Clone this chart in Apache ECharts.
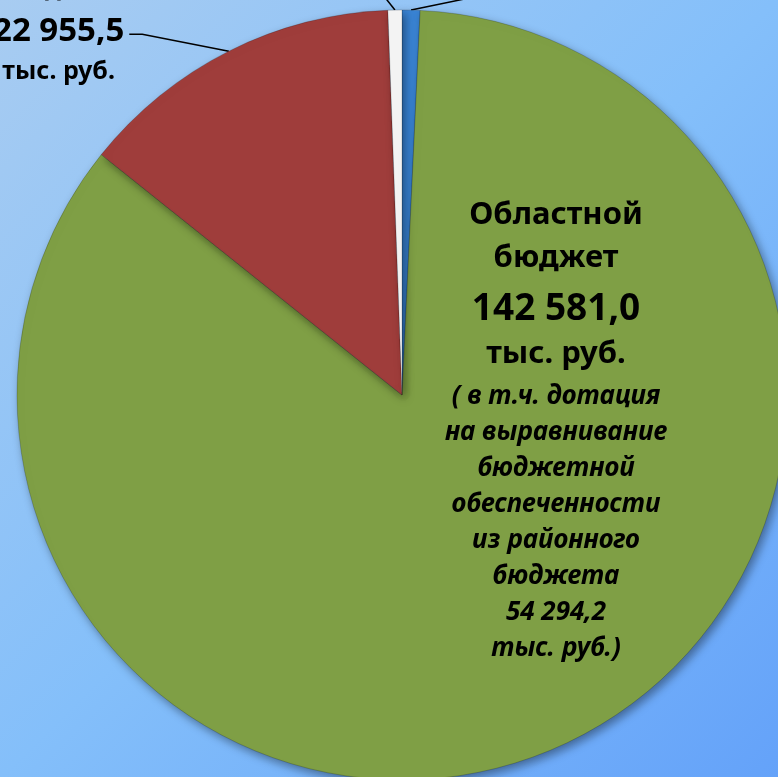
<!DOCTYPE html>
<html>
<head>
<meta charset="utf-8">
<script src="https://cdn.jsdelivr.net/npm/echarts@6/dist/echarts.min.js"></script>
<style>
  html, body { margin: 0; padding: 0; }
  #chart { width: 778px; height: 777px; }
</style>
</head>
<body>
<div id="chart"></div>
<script>
// доли источников доходов, тыс. руб. (по часовой стрелке от верха)
const sliceNames = ['Иные межбюджетные трансферты', 'Областной бюджет', 'Местный бюджет', 'Прочие доходы'];
const sliceValues = [1260.0, 142581.0, 22955.5, 980.0];
const sliceColors = ['#3a84d4', '#7f9f45', '#9f3d3b', '#f4f4f4'];
// дотация на выравнивание внутри областного бюджета
const subsidyValue = 54294.2;
const unitText = 'тыс. руб.';

// 142581 -> "142 581,0"
function fmt(v) {
  const parts = v.toFixed(1).split('.');
  return parts[0].replace(/\B(?=(\d{3})+(?!\d))/g, ' ') + ',' + parts[1];
}

const chart = echarts.init(document.getElementById('chart'));

const FONT = '"Noto Sans", "Open Sans", sans-serif';

// подписи
const mainLabel = {
  position: 'inside',
  formatter: (p) => [
    '{b|Областной}',
    '{b|бюджет}',
    '{n|' + fmt(p.value) + '}',
    '{t|' + unitText + '}',
    '{sp| }',
    '{i|( в т.ч. дотация}',
    '{i|на выравнивание}',
    '{i|бюджетной}',
    '{i|обеспеченности}',
    '{i|из районного}',
    '{i|бюджета}',
    '{i|' + fmt(subsidyValue) + '}',
    '{i|' + unitText + ')}'
  ].join('\n'),
  rich: {
    b: { fontFamily: FONT, fontWeight: 'bold', fontSize: 31, lineHeight: 43, color: '#000', align: 'center' },
    n: { fontFamily: FONT, fontWeight: 'bold', fontSize: 37, lineHeight: 59, color: '#000', align: 'center' },
    t: { fontFamily: FONT, fontWeight: 'bold', fontSize: 31, lineHeight: 31, color: '#000', align: 'center' },
    sp: { fontSize: 4, lineHeight: 9.5 },
    i: { fontFamily: FONT, fontWeight: 'bold', fontStyle: 'italic', fontSize: 26, lineHeight: 36, color: '#000', align: 'center' }
  }
};

const sideLabel = {
  position: 'outside',
  formatter: (p) => [
    '{s|' + p.name.split(' ').join('}\n{s|') + '}',
    '{n|' + fmt(p.value) + '}',
    '{s|' + unitText + '}',
    '{e| }'
  ].join('\n'),
  rich: {
    s: { fontFamily: FONT, fontWeight: 'bold', fontSize: 25, lineHeight: 40, color: '#000', align: 'center' },
    n: { fontFamily: FONT, fontWeight: 'bold', fontSize: 33, lineHeight: 42, color: '#000', align: 'center' },
    e: { fontSize: 10, lineHeight: 46 }
  }
};

// длины выносок для каждого сектора
const lineLen = [22, 0, 19, 30];
const lineLen2 = [105, 0, 91, 23];

const data = sliceNames.map((name, i) => ({
  name: name,
  value: sliceValues[i],
  itemStyle: { color: sliceColors[i] },
  label: i === 1 ? mainLabel : sideLabel,
  labelLine: {
    show: i !== 1,
    length: lineLen[i],
    length2: lineLen2[i],
    lineStyle: { color: '#000', width: 1.5 }
  }
}));

const option = {
  backgroundColor: {
    type: 'linear', x: 0, y: 0, x2: 1, y2: 1,
    colorStops: [
      { offset: 0, color: '#a8ccf1' },
      { offset: 0.5, color: '#84bffa' },
      { offset: 1, color: '#64a2f9' }
    ]
  },
  animation: false,
  series: [
    {
      type: 'pie',
      center: [402, 395],
      radius: 385,
      startAngle: 90,
      clockwise: true,
      avoidLabelOverlap: false,
      itemStyle: {
        borderColor: 'rgba(0,0,0,0.18)',
        borderWidth: 1,
        shadowBlur: 10,
        shadowOffsetX: 3,
        shadowOffsetY: 4,
        shadowColor: 'rgba(0,0,0,0.4)'
      },
      labelLayout: (params) => {
        if (params.dataIndex === 1) {
          return { x: 556, y: 193.5, align: 'center', verticalAlign: 'top' };
        }
        const pts = params.labelLinePoints;
        if (!pts) return {};
        if (params.dataIndex === 2) {
          // короткая горизонталь у подписи, затем наклон к сектору
          return { labelLinePoints: [pts[0], [pts[2][0] + 13, pts[2][1]], pts[2]] };
        }
        // подписи малых секторов лежат выше кадра, видна только выноска
        return { y: -300, labelLinePoints: [pts[0], pts[0], pts[2]] };
      },
      data: data
    }
  ]
};

chart.setOption(option);
</script>
</body>
</html>
